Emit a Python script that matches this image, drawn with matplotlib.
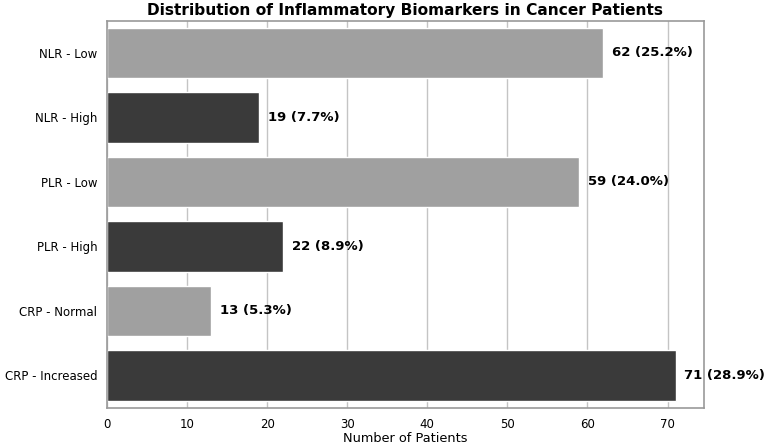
import numpy as np
import matplotlib.pyplot as plt
import seaborn as sns

categories = ['NLR - Low', 'NLR - High', 'PLR - Low', 'PLR - High', 'CRP - Normal', 'CRP - Increased']
counts = [62, 19, 59, 22, 13, 71]
percents = [25.2, 7.7, 24.0, 8.9, 5.3, 28.9]

sns.set_style('whitegrid')
plt.rcParams['font.family'] = ['DejaVu Sans']
plt.rcParams['text.color'] = 'black'
plt.rcParams['axes.labelcolor'] = 'black'
plt.rcParams['xtick.color'] = 'black'
plt.rcParams['ytick.color'] = 'black'

fig = plt.figure(figsize=[7.66, 4.48], dpi=100)
ax = fig.add_subplot(1, 1, 1)

colors = ['#a0a0a0' if i % 2 == 0 else '#3a3a3a' for i in range(len(categories))]
y = np.arange(len(categories))
ax.barh(y, counts, height=0.78, color=colors)

for yi, c, p in zip(y, counts, percents):
    ax.text(c + 1.1, yi, f'{c} ({p:.1f}%)', va='center', ha='left',
            fontsize=9.5, fontweight='bold')

ax.set_yticks(y)
ax.set_yticklabels(categories, fontsize=8.5)
ax.set_xlim(0, max(counts) * 1.05)
ax.set_ylim(5.5, -0.5)
ax.set_xticks(np.arange(0, 71, 10))
ax.tick_params(axis='x', labelsize=8.5, pad=4)
ax.tick_params(axis='y', pad=3.5)
ax.set_xlabel('Number of Patients', fontsize=9.3, labelpad=1)
ax.set_title('Distribution of Inflammatory Biomarkers in Cancer Patients',
             fontsize=11.1, fontweight='bold', pad=4)
ax.grid(axis='y', visible=False)
ax.grid(axis='x', color='#c4c4c4', linewidth=1)
for s in ax.spines.values():
    s.set_color('#999999')
    s.set_linewidth(1.2)

fig.subplots_adjust(left=0.1397, right=0.919, top=0.954, bottom=0.09)
fig.savefig('out.png', dpi=100)
